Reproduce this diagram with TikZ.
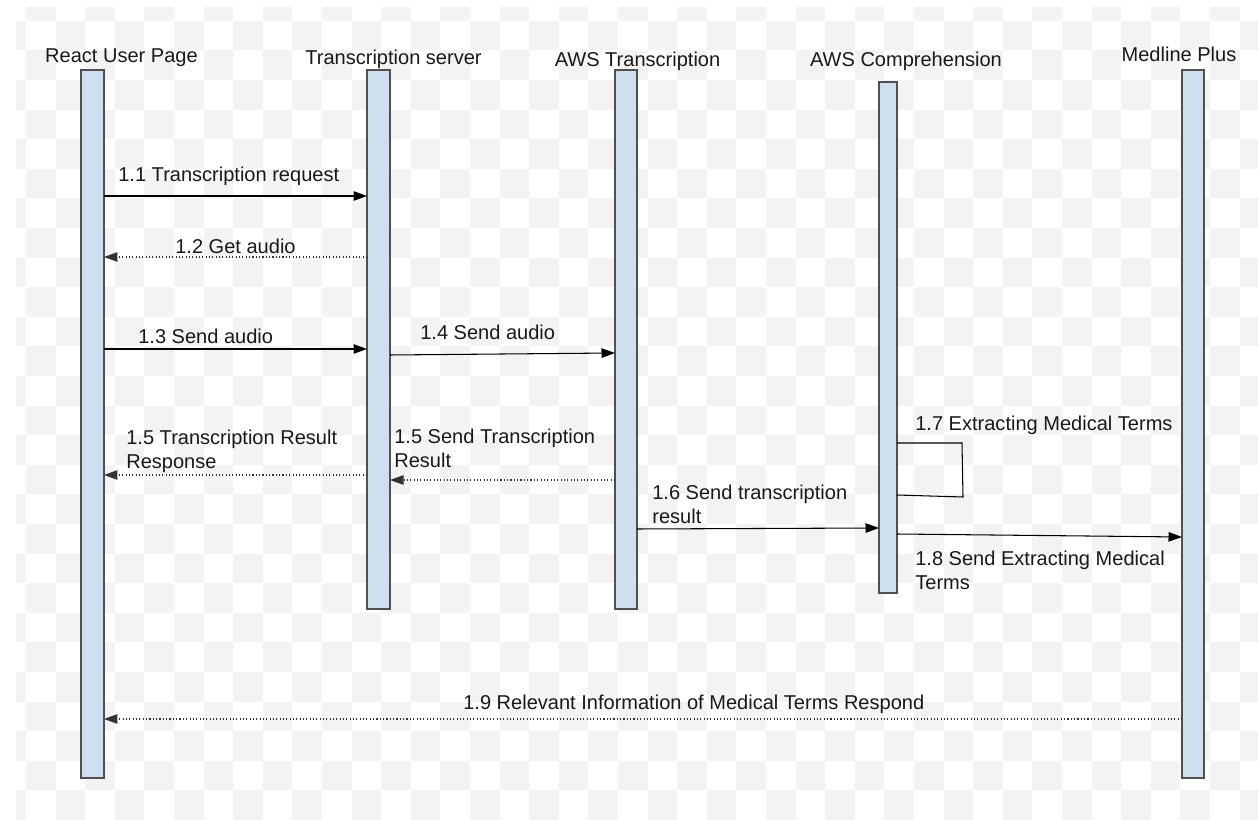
\documentclass[tikz,border=0pt]{standalone}
\usepackage{fontspec}
\setmainfont{Liberation Sans}
\usetikzlibrary{fit}
\usetikzlibrary{arrows.meta}
\definecolor{barblue}{HTML}{CFDFF0}
\definecolor{barline}{HTML}{505050}
\definecolor{checker}{HTML}{F3F3F3}
\tikzstyle{lifeline}=[draw=barline, fill=barblue, line width=0.6pt, inner sep=0pt, outer sep=0pt]
\tikzstyle{head}=[anchor=base, inner sep=0pt]
\tikzstyle{msglabel}=[anchor=base west, align=left, inner sep=0pt]
\tikzstyle{call}=[line width=0.6pt, -{Triangle[length=0.27cm, width=0.19cm]}]
\tikzstyle{reply}=[call, black!80, dash pattern=on 0.6pt off 1.3pt]

\begin{document}
\begin{tikzpicture}[x=0.02cm, y=-0.02cm,
    every node/.style={font=\fontsize{11.4}{13.7}\selectfont, text=black!90}]
  \fill[white] (0,0) rectangle (1258,820);
  \useasboundingbox (0,0) rectangle (1258,820);
  \begin{scope}
    \clip (16,8) rectangle (1258,820);
    \foreach \c in {-1,...,41}
      \foreach \r in {-1,...,27}
        {
          \pgfmathparse{int(mod(\c+\r+2,2))}
          \ifnum\pgfmathresult=1
            \fill[checker] ({26+29.6*\c},{20.8+29.6*\r}) rectangle +(29.6,29.6);
          \fi
        }
  \end{scope}

  \node[lifeline, fit={(81,70) (104,778)}] (react) {};
  \node[lifeline, fit={(367,70) (390,609)}] (server) {};
  \node[lifeline, fit={(615,70) (637,609)}] (awstrans) {};
  \node[lifeline, fit={(879,82) (897,593)}] (awscomp) {};
  \node[lifeline, fit={(1182,70) (1204,778)}] (medline) {};

  \node[head] (reacthead) at (121.5,63) {React User Page};
  \node[head] (serverhead) at (393.5,65) {Transcription server};
  \node[head] (awstranshead) at (637.5,67) {AWS Transcription};
  \node[head] (awscomphead) at (906,67) {AWS Comprehension};
  \node[head] (medlinehead) at (1179,62) {Medline Plus};

  \draw[call] (react.east |- 0,196) -- (server.west |- 0,196);
  \node[msglabel] (m11) at (118,182) {1.1 Transcription request};
  \draw[reply] (server.west |- 0,257) -- (react.east |- 0,257);
  \node[msglabel] (m12) at (175,254) {1.2 Get audio};
  \draw[call] (react.east |- 0,349) -- (server.west |- 0,349);
  \node[msglabel] (m13) at (138,344) {1.3 Send audio};
  \draw[call] (server.east |- 0,355) -- (awstrans.west |- 0,353);
  \node[msglabel] (m14) at (420,340) {1.4 Send audio};
  \draw[reply] (server.west |- 0,475) -- (react.east |- 0,475);
  \node[msglabel] (m15a) at (126,469) {1.5 Transcription Result\\Response};
  \draw[reply] (awstrans.west |- 0,480) -- (server.east |- 0,480);
  \node[msglabel] (m15b) at (394,468) {1.5 Send Transcription\\Result};
  \draw[call] (awstrans.east |- 0,529) -- (awscomp.west |- 0,528);
  \node[msglabel] (m16) at (652,524) {1.6 Send transcription\\result};
  \coordinate (loopa) at (962,443);
  \coordinate (loopb) at (963,497);
  \draw[line width=0.6pt] (awscomp.east |- 0,443) -- (loopa) -- (loopb) -- (awscomp.east |- 0,495);
  \node[msglabel] (m17) at (915,431) {1.7 Extracting Medical Terms};
  \draw[call] (awscomp.east |- 0,534) -- (medline.west |- 0,537);
  \node[msglabel] (m18) at (915,590) {1.8 Send Extracting Medical\\Terms};
  \draw[reply] (medline.west |- 0,719) -- (react.east |- 0,719);
  \node[msglabel] (m19) at (463,709) {1.9 Relevant Information of Medical Terms Respond};
\end{tikzpicture}
\end{document}
